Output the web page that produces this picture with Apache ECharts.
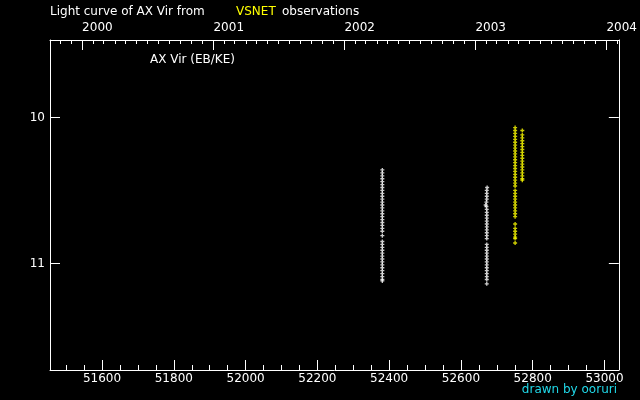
<!DOCTYPE html>
<html>
<head>
<meta charset="utf-8">
<script src="https://cdn.jsdelivr.net/npm/echarts@6/dist/echarts.min.js"></script>
<style>html,body{margin:0;padding:0;background:#000;}#c{width:640px;height:400px;}</style>
</head>
<body>
<div id="c"></div>
<script>
// ---- Data (JD - 2400000, visual magnitude) ----
const otherNight1 = [
  [52381,10.36],[52381,10.38],[52381,10.40],[52381,10.42],[52381,10.44],[52381,10.46],[52381,10.48],[52381,10.50],
  [52381,10.52],[52381,10.54],[52381,10.56],[52381,10.58],[52381,10.60],[52381,10.62],[52381,10.64],[52381,10.66],
  [52381,10.68],[52381,10.70],[52381,10.72],[52381,10.74],[52381,10.76],[52381,10.78],[52381,10.81],[52381,10.85],
  [52381,10.87],[52381,10.89],[52381,10.91],[52381,10.93],[52381,10.95],[52381,10.97],[52381,10.99],[52381,11.01],
  [52381,11.03],[52381,11.05],[52381,11.07],[52381,11.09],[52381,11.11],[52381,11.12]
];
const otherNight2 = [
  [52673,10.48],[52672,10.50],[52672,10.52],[52672,10.54],[52672,10.56],[52671,10.58],[52669,10.60],[52671,10.61],
  [52672,10.63],[52672,10.65],[52672,10.67],[52672,10.69],[52672,10.71],[52672,10.73],[52672,10.75],[52672,10.77],
  [52672,10.79],[52672,10.81],[52672,10.83],[52672,10.87],[52672,10.89],[52672,10.91],[52672,10.93],[52672,10.95],
  [52672,10.97],[52672,10.99],[52672,11.01],[52672,11.03],[52672,11.05],[52672,11.07],[52672,11.09],[52672,11.11],
  [52672,11.14]
];
const vsnetNight1 = [
  [52751,10.07],[52751,10.09],[52751,10.11],[52751,10.13],[52751,10.15],[52751,10.17],[52751,10.19],[52751,10.21],
  [52751,10.23],[52751,10.25],[52751,10.27],[52751,10.29],[52751,10.31],[52751,10.33],[52751,10.35],[52751,10.37],
  [52751,10.39],[52751,10.41],[52751,10.43],[52751,10.45],[52751,10.47],[52751,10.50],[52751,10.52],[52751,10.54],
  [52751,10.56],[52751,10.58],[52751,10.60],[52751,10.62],[52751,10.64],[52751,10.66],[52751,10.68],[52751,10.73],
  [52751,10.76],[52751,10.78],[52751,10.80],[52751,10.82],[52751,10.83],[52751,10.86]
];
const vsnetNight2 = [
  [52771,10.09],[52771,10.12],[52771,10.14],[52771,10.16],[52771,10.18],[52771,10.20],[52771,10.22],[52771,10.24],
  [52771,10.26],[52771,10.28],[52771,10.30],[52771,10.32],[52771,10.34],[52771,10.36],[52771,10.38],[52771,10.40],
  [52771,10.42],[52771,10.43]
];

// ---- Axis ticks / labels ----
const jdMajorTicks = [51600,51800,52000,52200,52400,52600,52800,53000];
const jdMinorTicks = [51500,51550,51650,51700,51750,51850,51900,51950,52050,52100,52150,52250,52300,52350,
                      52450,52500,52550,52650,52700,52750,52850,52900,52950];
const yearLabels = [2000,2001,2002,2003,2004];
const magTicks = [10,11];

// ---- Build helpers ----
function jdOfDate(y, m) { return Date.UTC(y, m, 1) / 86400000 + 40587 + 0.5; }
const yearTicks = yearLabels.map(y => jdOfDate(y, 0));
const monthTicks = [];
for (let y = 1999; y <= 2004; y++) for (let m = 0; m < 12; m++) {
  const v = jdOfDate(y, m);
  if (m !== 0 && v > 51455 && v < 53040) monthTicks.push(v);
}

const FONT = 'DejaVu Sans';
const WHITE = '#ffffff';
const xMin = 51455, xMax = 53040, yMin = 9.47, yMax = 11.73;
const plus = 'path://M1 0H2V1H3V2H2V3H1V2H0V1H1Z';

const chart = echarts.init(document.getElementById('c'), null, {renderer: 'canvas'});
const baseX = {type: 'value', min: xMin, max: xMax, splitLine: {show: false}};
chart.setOption({
  backgroundColor: '#000000',
  animation: false,
  grid: {left: 50, right: 20, top: 40, bottom: 30, show: false},
  xAxis: [
    Object.assign({}, baseX, {
      position: 'bottom',
      axisLine: {show: true, lineStyle: {color: WHITE, width: 1}},
      axisTick: {show: true, inside: true, length: 10, customValues: jdMajorTicks, lineStyle: {color: WHITE}},
      axisLabel: {show: true, customValues: jdMajorTicks, color: WHITE, fontSize: 12, fontFamily: FONT, margin: 3,
        formatter: v => String(v)}
    }),
    Object.assign({}, baseX, {
      position: 'bottom',
      axisLine: {show: false},
      axisTick: {show: true, inside: true, length: 5, customValues: jdMinorTicks, lineStyle: {color: WHITE}},
      axisLabel: {show: false}
    }),
    Object.assign({}, baseX, {
      position: 'top',
      axisLine: {show: true, lineStyle: {color: WHITE, width: 1}},
      axisTick: {show: true, inside: true, length: 10, customValues: yearTicks, lineStyle: {color: WHITE}},
      axisLabel: {show: true, customValues: yearTicks, color: WHITE, fontSize: 12, fontFamily: FONT, margin: 6,
        align: 'left', formatter: v => String(yearLabels[yearTicks.indexOf(v)])}
    }),
    Object.assign({}, baseX, {
      position: 'top',
      axisLine: {show: false},
      axisTick: {show: true, inside: true, length: 4, customValues: monthTicks, lineStyle: {color: WHITE}},
      axisLabel: {show: false}
    })
  ],
  yAxis: [
    {type: 'value', inverse: true, min: yMin, max: yMax, position: 'left', splitLine: {show: false},
      axisLine: {show: true, lineStyle: {color: WHITE, width: 1}},
      axisTick: {show: true, inside: true, length: 10, customValues: magTicks, lineStyle: {color: WHITE}},
      axisLabel: {show: true, customValues: magTicks, color: WHITE, fontSize: 12, fontFamily: FONT, margin: 5}
    },
    {type: 'value', inverse: true, min: yMin, max: yMax, position: 'right', splitLine: {show: false},
      axisLine: {show: true, lineStyle: {color: WHITE, width: 1}},
      axisTick: {show: true, inside: true, length: 10, customValues: magTicks, lineStyle: {color: WHITE}},
      axisLabel: {show: false}
    }
  ],
  series: [
    {name: 'Others', type: 'scatter', xAxisIndex: 0, yAxisIndex: 0, symbol: plus, symbolSize: 4,
      itemStyle: {color: WHITE}, data: otherNight1.concat(otherNight2)},
    {name: 'VSNET', type: 'scatter', xAxisIndex: 0, yAxisIndex: 0, symbol: plus, symbolSize: 4,
      itemStyle: {color: '#ffff00'}, data: vsnetNight1.concat(vsnetNight2)}
  ],
  graphic: [
    {type: 'text', x: 50, y: 12, style: {text: 'Light curve of AX Vir from', fill: WHITE, font: '12px ' + FONT, verticalAlign: 'middle'}},
    {type: 'text', x: 236, y: 12, style: {text: 'VSNET', fill: '#ffff00', font: '12px ' + FONT, verticalAlign: 'middle'}},
    {type: 'text', x: 282, y: 12, style: {text: 'observations', fill: WHITE, font: '12px ' + FONT, verticalAlign: 'middle'}},
    {type: 'text', x: 150, y: 60, style: {text: 'AX Vir (EB/KE)', fill: WHITE, font: '12px ' + FONT, verticalAlign: 'middle'}},
    {type: 'text', x: 617, y: 390, style: {text: 'drawn by ooruri', fill: '#20d8e8', font: '12px ' + FONT, align: 'right', verticalAlign: 'middle'}}
  ]
});
</script>
</body>
</html>
